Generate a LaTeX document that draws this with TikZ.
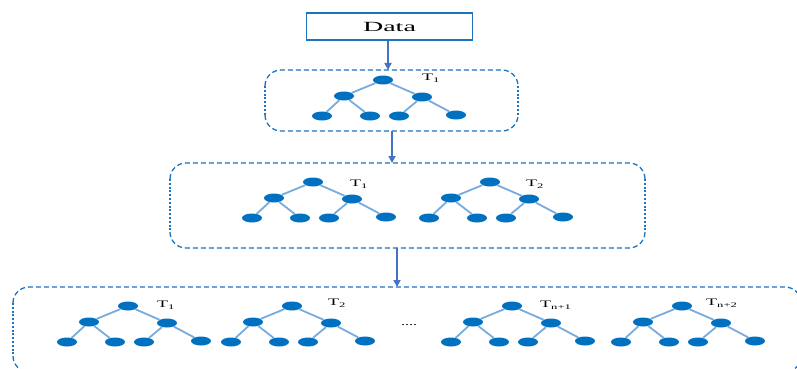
\documentclass[tikz,border=0pt]{standalone}
\usepackage{fontspec}
\setmainfont{Liberation Serif}
\usetikzlibrary{arrows.meta,shapes.geometric}
\definecolor{nodeblue}{RGB}{0,112,192}
\definecolor{edgeblue}{RGB}{120,172,222}
\definecolor{boxblue}{RGB}{30,115,190}
\definecolor{arrowblue}{RGB}{68,114,196}
\tikzset{
  treenode/.style={ellipse, fill=nodeblue, minimum width=20pt, minimum height=9pt, inner sep=0pt},
  treeedge/.style={edgeblue, line width=1.8pt},
  hside/.style={draw=boxblue, line width=1.3pt, dash pattern=on 5pt off 3pt, rounded corners=16pt},
  vside/.style={draw=boxblue, line width=1.6pt, dash pattern=on 2pt off 1.8pt},
  flow/.style={arrowblue, line width=1.6pt, -{Triangle[length=7pt,width=7pt]}},
  lbl/.style={anchor=west, inner sep=0pt, font=\fontsize{10}{10}\selectfont},
}
% dashed rounded box: x1,y1,x2,y2 (y downward), radius 16
\newcommand\groupbox[4]{%
  \draw[hside] (#1,#2+16) -- (#1,#2) -- (#3,#2) -- (#3,#2+16);
  \draw[hside] (#1,#4-16) -- (#1,#4) -- (#3,#4) -- (#3,#4-16);
  \draw[vside] (#1,#2+16) -- (#1,#4-16);
  \draw[vside] (#3,#2+16) -- (#3,#4-16);}
\newcommand\mytree[3]{%
  \begin{scope}[shift={(#2,#3)}]
    \node[treenode] (#1r) at (0,0) {};
    \node[treenode] (#1a) at (-39,16) {};
    \node[treenode] (#1b) at (39,17) {};
    \node[treenode] (#1c) at (-61,36) {};
    \node[treenode] (#1d) at (-13,36) {};
    \node[treenode] (#1e) at (16,36) {};
    \node[treenode] (#1f) at (73,35) {};
    \draw[treeedge] (#1r) -- (#1a);
    \draw[treeedge] (#1r) -- (#1b);
    \draw[treeedge] (#1a) -- (#1c);
    \draw[treeedge] (#1a) -- (#1d);
    \draw[treeedge] (#1b) -- (#1e);
    \draw[treeedge] (#1b) -- (#1f);
  \end{scope}}
\begin{document}
\begin{tikzpicture}[x=1pt,y=-1pt]
\clip (0,0) rectangle (797,369);
\fill[white] (0,0) rectangle (797,369);
% Data box
\node[draw=boxblue, line width=1.4pt, minimum width=166pt, minimum height=27pt, inner sep=0pt] (data) at (389.5,26.5)
  {\scalebox{2}[1]{\fontsize{14}{14}\selectfont Data}};
% boxes
\groupbox{265}{70}{518}{131}
\coordinate (b1top) at (388,70);
\coordinate (b1bot) at (392,131);
\groupbox{170}{163}{645}{248}
\coordinate (b2top) at (392,163);
\coordinate (b2bot) at (397,248);
\groupbox{13}{287}{801}{372}
\coordinate (b3top) at (397,287);
% arrows
\draw[flow] (data.south -| b1top) -- (b1top);
\draw[flow] (b1bot) -- (b2top);
\draw[flow] (b2bot) -- (b3top);
% trees
\mytree{p}{383}{80}
\node[lbl] (pt) at (422,78) {\scalebox{1.8}[1]{T\textsubscript{1}}};
\mytree{q}{313}{182}
\node[lbl] (qt) at (350,184) {\scalebox{1.8}[1]{T\textsubscript{1}}};
\mytree{s}{490}{182}
\node[lbl] (st) at (526,184) {\scalebox{1.8}[1]{T\textsubscript{2}}};
\mytree{u}{128}{306}
\node[lbl] (ut) at (157,305) {\scalebox{1.8}[1]{T\textsubscript{1}}};
\mytree{v}{292}{306}
\node[lbl] (vt) at (328,303) {\scalebox{1.8}[1]{T\textsubscript{2}}};
\mytree{w}{512}{306}
\node[lbl] (wt) at (540,305) {\scalebox{1.8}[1]{T\textsubscript{n+1}}};
\mytree{z}{682}{306}
\node[lbl] (zt) at (706,303) {\scalebox{1.8}[1]{T\textsubscript{n+2}}};
\node[inner sep=0pt, font=\fontsize{10}{10}\selectfont] (dots) at (409,325) {\scalebox{1.6}[1]{....}};
\end{tikzpicture}
\end{document}
